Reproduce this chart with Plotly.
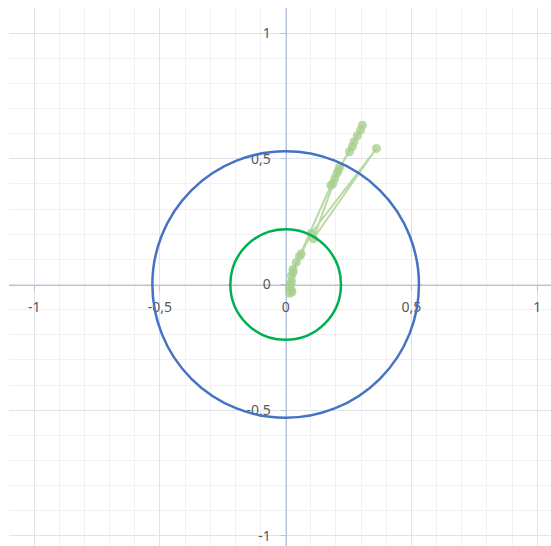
import plotly.graph_objects as go

# ---- data ----
series_x = [0.016, 0.023, 0.016, 0.023, 0.023, 0.029, 0.042, 0.062, 0.102, 0.361,
            0.110, 0.188, 0.195, 0.204, 0.210, 0.215, 0.254, 0.265, 0.272, 0.285,
            0.298, 0.305, 0.180, 0.055, 0.030, 0.020, 0.025]
series_y = [-0.035, -0.022, -0.005, 0.012, 0.035, 0.060, 0.088, 0.122, 0.204, 0.541,
            0.182, 0.402, 0.422, 0.442, 0.455, 0.468, 0.528, 0.548, 0.568, 0.592,
            0.614, 0.634, 0.395, 0.112, 0.050, 0.000, -0.030]

circle_radii = [0.53, 0.22]
circle_colors = ["#4472C4", "#00B050"]

tick_vals = [-1, -0.5, 0, 0.5, 1]
tick_text = ["-1", "-0,5", "0", "0,5", "1"]

x_range = [-1.1, 1.055]
y_range = [-1.04, 1.1]

# ---- figure ----
fig = go.Figure()
fig.add_trace(go.Scatter(
    x=series_x, y=series_y, mode="lines+markers",
    line=dict(color="rgba(169,209,142,0.8)", width=2),
    marker=dict(color="rgba(169,209,142,0.8)", size=9),
    showlegend=False, hoverinfo="skip"))

shapes = []
for r, c in zip(circle_radii, circle_colors):
    shapes.append(dict(type="circle", xref="x", yref="y",
                       x0=-r, x1=r, y0=-r, y1=r,
                       line=dict(color=c, width=2.5), layer="above"))

xpos = (0 - x_range[0]) / (x_range[1] - x_range[0])
ypos = (0 - y_range[0]) / (y_range[1] - y_range[0])

grid_major = "#dfe3ea"
grid_minor = "#f0f1f4"
axis_col = "#b4c0dc"
font = dict(family="Noto Sans", size=14, color="#595959")

common = dict(showgrid=True, gridcolor=grid_major, gridwidth=1,
              zeroline=False, showline=True, linecolor=axis_col, linewidth=1,
              ticks="outside", ticklen=5, tickcolor=axis_col,
              tickvals=tick_vals, ticktext=tick_text, tickfont=font,
              minor=dict(tickmode="linear", tick0=0, dtick=0.1, showgrid=True,
                         gridcolor=grid_minor, ticks=""),
              layer="below traces", fixedrange=True, automargin=False)

fig.update_layout(
    width=551, height=546,
    margin=dict(l=9, r=0, t=8, b=0),
    paper_bgcolor="white", plot_bgcolor="white",
    xaxis=dict(range=x_range, anchor="free", position=ypos,
               ticklabelstandoff=5, **common),
    yaxis=dict(range=y_range, anchor="free", position=xpos,
               ticklabelstandoff=7, **common),
    shapes=shapes,
)

fig.write_html("out.html", config={"displayModeBar": False})

# remove default browser body margin so the figure starts at the page corner
with open("out.html", "r", encoding="utf-8") as f:
    html = f.read()
html = html.replace("<body>", '<body style="margin:0;padding:0;overflow:hidden">', 1)
with open("out.html", "w", encoding="utf-8") as f:
    f.write(html)
